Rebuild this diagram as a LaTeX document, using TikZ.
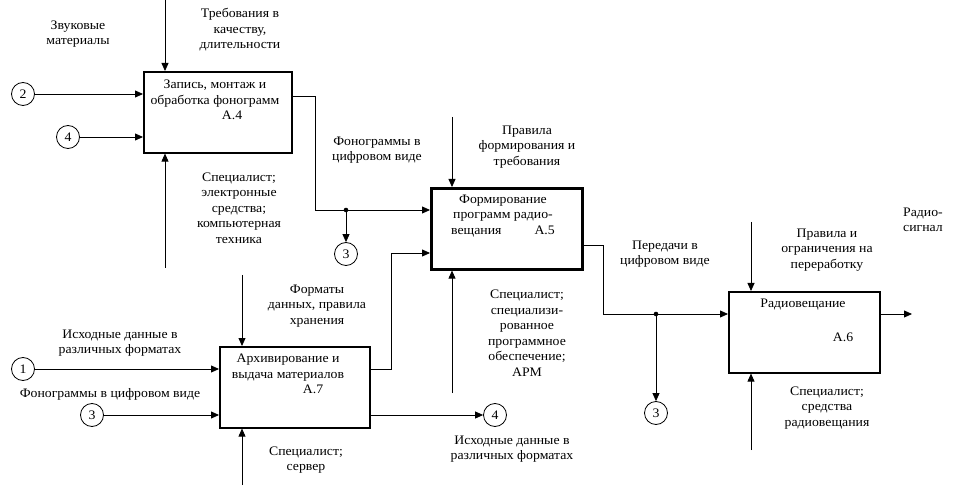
\documentclass[tikz,border=0pt]{standalone}
\usepackage{fontspec}
\setmainfont{Liberation Serif}[FakeStretch=1.06]
\usetikzlibrary{arrows.meta}
\begin{document}
\begin{tikzpicture}[x=1pt,y=-1pt,
  every node/.style={font=\fontsize{13}{15.5}\selectfont},
  box/.style={draw, line width=1.6pt, anchor=north west, inner sep=0pt},
  lbl/.style={align=center, inner sep=0pt},
  circ/.style={draw, circle, line width=0.8pt, minimum size=23pt, inner sep=0pt},
  arr/.style={line width=0.8pt, -{Triangle[length=8pt,width=7pt]}},
  ln/.style={line width=0.8pt}]
\useasboundingbox (0,0) rectangle (959,497);

% boxes
\node[box, minimum width=148pt, minimum height=81pt] (a4) at (143,71) {};
\node[box, line width=2.6pt, minimum width=151pt, minimum height=81pt] (a5) at (430,187) {};
\node[box, minimum width=151pt, minimum height=81pt] (a6) at (728,291) {};
\node[box, minimum width=150pt, minimum height=81pt] (a7) at (219,346) {};

% box texts
\node[lbl] (t4) at (215,100) {Запись, монтаж и\\обработка фонограмм\\\hspace*{34pt}А.4};
\node[lbl] (t5) at (503,216) {Формирование\\программ радио-\\вещания\hspace{33pt}А.5};
\node[lbl] (t7) at (288,374) {Архивирование и\\выдача материалов\\\hspace*{50pt}А.7};
\node[lbl] (t6a) at (803,305) {Радиовещание};
\node[lbl] (t6b) at (843,337) {А.6};

% circles
\node[circ] (c2) at (23,94) {2};
\node[circ] (c4a) at (68,137) {4};
\node[circ] (c3a) at (346,254) {3};
\node[circ] (c1) at (23,369) {1};
\node[circ] (c3b) at (92,415) {3};
\node[circ] (c4b) at (495,415) {4};
\node[circ] (c3c) at (656,413) {3};

% coordinates
\coordinate (a4top) at (165,0);
\coordinate (a4bot) at (165,268);
\coordinate (o4) at (315,96);
\coordinate (j1) at (346,210);
\coordinate (a5top) at (452,117);
\coordinate (a5bot) at (452,393);
\coordinate (o7) at (391,369);
\coordinate (i5) at (391,253);
\coordinate (o5) at (603,245);
\coordinate (j2) at (656,314);
\coordinate (a6top) at (751,222);
\coordinate (a6bot) at (751,450);
\coordinate (r6) at (912,314);
\coordinate (a7top) at (242,275);
\coordinate (a7bot) at (242,485);

% A.4
\draw[arr] (a4top) -- (a4top |- a4.north);
\draw[arr] (a4bot) -- (a4bot |- a4.south);
\draw[arr] (c2.east) -- (a4.west |- c2);
\draw[arr] (c4a.east) -- (a4.west |- c4a);
\draw[arr] (a4.east |- o4) -- (o4) |- (a5.west |- j1);
\fill (j1) circle (2.3pt);
\draw[arr] (j1) -- (c3a.north);

% A.5
\draw[arr] (a5top) -- (a5top |- a5.north);
\draw[arr] (a5bot) -- (a5bot |- a5.south);
\draw[arr] (a7.east |- o7) -- (o7) -- (i5) -- (a5.west |- i5);
\draw[arr] (a5.east |- o5) -- (o5) |- (a6.west |- j2);
\fill (j2) circle (2.3pt);
\draw[arr] (j2) -- (c3c.north);

% A.6
\draw[arr] (a6top) -- (a6top |- a6.north);
\draw[arr] (a6bot) -- (a6bot |- a6.south);
\draw[arr] (a6.east |- r6) -- (r6);

% A.7
\draw[arr] (a7top) -- (a7top |- a7.north);
\draw[arr] (a7bot) -- (a7bot |- a7.south);
\draw[arr] (c1.east) -- (a7.west |- c1);
\draw[arr] (c3b.east) -- (a7.west |- c3b);
\draw[arr] (a7.east |- c4b) -- (c4b.west);

% labels
\node[lbl] (l1) at (78,34) {Звуковые\\материалы};
\node[lbl] (l2) at (240,30) {Требования в\\качеству,\\длительности};
\node[lbl] (l3) at (239,208) {Специалист;\\электронные\\средства;\\компьютерная\\техника};
\node[lbl] (l4) at (377,150) {Фонограммы в\\цифровом виде};
\node[lbl] (l5) at (527,147) {Правила\\формирования и\\требования};
\node[lbl] (l6) at (665,254) {Передачи в\\цифровом виде};
\node[lbl] (l7) at (827,250) {Правила и\\ограничения на\\переработку};
\node[lbl] (l8) at (923,220) {Радио-\\сигнал};
\node[lbl] (l9) at (827,408) {Специалист;\\средства\\радиовещания};
\node[lbl] (l10) at (317,306) {Форматы\\данных, правила\\хранения};
\node[lbl] (l11) at (120,343) {Исходные данные в\\различных форматах};
\node[lbl] (l12) at (110,394) {Фонограммы в цифровом виде};
\node[lbl] (l13) at (306,460) {Специалист;\\сервер};
\node[lbl] (l14) at (527,333) {Специалист;\\специализи-\\рованное\\программное\\обеспечение;\\АРМ};
\node[lbl] (l15) at (512,449) {Исходные данные в\\различных форматах};
\end{tikzpicture}
\end{document}
